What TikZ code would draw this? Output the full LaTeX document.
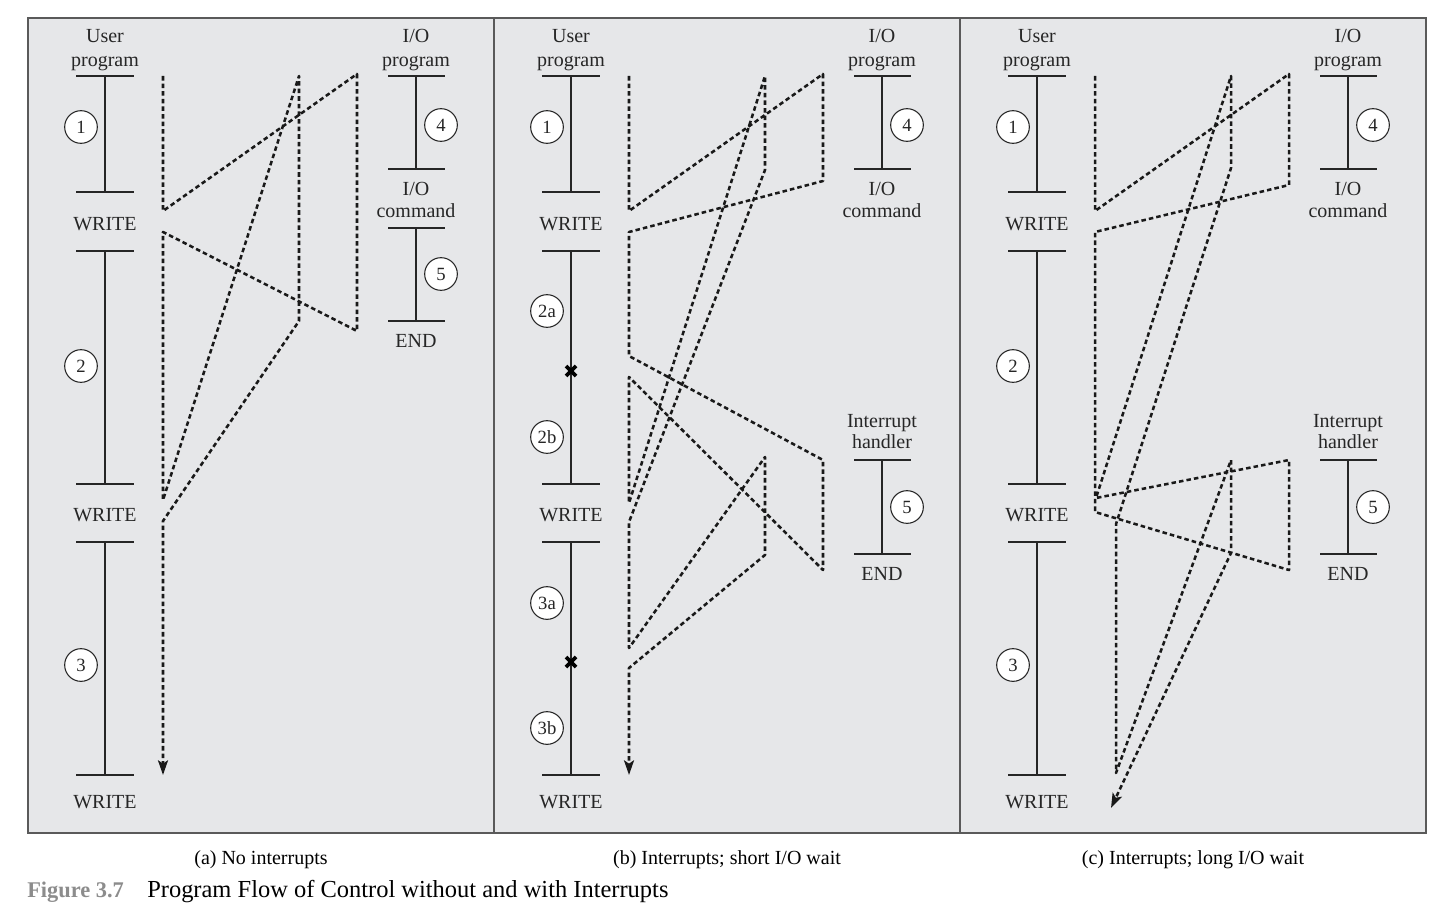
\documentclass[tikz,border=0pt]{standalone}
\usepackage{fontspec}
\setmainfont{Liberation Serif}
\usetikzlibrary{arrows.meta}
\definecolor{panelbg}{HTML}{E6E7E9}
\definecolor{framec}{HTML}{5A5A5A}
\definecolor{inkc}{HTML}{262626}
\definecolor{figgray}{HTML}{8C8C8C}
\tikzset{
  lbl/.style={inner sep=0pt, anchor=base, font=\fontsize{15}{18}\selectfont, text=inkc},
  numc/.style={circle, draw=inkc, fill=white, line width=0.8pt, minimum size=24.5pt, inner sep=0pt, font=\fontsize{14}{16}\selectfont, text=inkc},
  tickline/.style={draw=inkc, line width=1pt},
  progline/.style={draw=inkc, line width=0.9pt},
  flow/.style={draw=black!90, line width=1.9pt, dash pattern=on 3.4pt off 2.3pt, line join=round},
  flowarrow/.style={flow, -{Stealth[length=11pt,width=7.5pt,inset=2.5pt]}},
  xmark/.style={draw=black, line width=2.8pt},
  captext/.style={inner sep=0pt, anchor=base, font=\fontsize{15}{18}\selectfont},
}
\newcommand\mypanelbase{%
  \node[lbl] (up1) at (105,43) {User};
  \node[lbl] (up2) at (105,66) {program};
  \node[lbl] (io1) at (416,43) {I/O};
  \node[lbl] (io2) at (416,66) {program};
  \node[lbl] (ioc1) at (416,195) {I/O};
  \node[lbl] (ioc2) at (416,217) {command};
  \node[lbl] (w1) at (105,230) {WRITE};
  \node[lbl] (w2) at (105,521) {WRITE};
  \node[lbl] (w3) at (105,808) {WRITE};
  \foreach \n/\y in {u0/76,u1/192,u2/251,u3/484,u4/542,u5/775}{
    \coordinate (\n) at (105,\y);
    \draw[tickline] (76,\y) -- (134,\y);
  }
  \draw[progline] (u0) -- (u1) (u2) -- (u3) (u4) -- (u5);
  \coordinate (i0) at (416,76);
  \coordinate (i1) at (416,169);
  \draw[tickline] (388,76) -- (445,76) (388,169) -- (445,169);
  \draw[progline] (i0) -- (i1);
  \node[numc] (c4) at (441,125) {4};
  \node[numc] (c1) at (81,127) {1};
}
\newcommand\myhandler{%
  \node[lbl] (ih1) at (416,427) {Interrupt};
  \node[lbl] (ih2) at (416,448) {handler};
  \coordinate (h0) at (416,460); \coordinate (h1) at (416,554);
  \draw[tickline] (388,460) -- (445,460) (388,554) -- (445,554);
  \draw[progline] (h0) -- (h1);
  \node[numc] (c5) at (441,507) {5};
  \node[lbl] (end) at (416,580) {END};
}
\begin{document}
\begin{tikzpicture}[x=0.75pt,y=-0.75pt]
\useasboundingbox (0,0) rectangle (1448,906);
\fill[panelbg] (28,18) rectangle (1426,833);
\coordinate (d1t) at (494,18); \coordinate (d1b) at (494,833);
\coordinate (d2t) at (960,18); \coordinate (d2b) at (960,833);
\draw[framec, line width=1.1pt] (28,18) rectangle (1426,833);
\draw[framec, line width=1.1pt] (d1t) -- (d1b) (d2t) -- (d2b);

% ---------- (a) ----------
\begin{scope}[name prefix=a-]
  \mypanelbase
  \draw[tickline] (388,228) -- (445,228) (388,321) -- (445,321);
  \coordinate (h0) at (416,228); \coordinate (h1) at (416,321);
  \draw[progline] (h0) -- (h1);
  \node[numc] (c5) at (441,274) {5};
  \node[lbl] (end) at (416,347) {END};
  \node[numc] (c2) at (81,366) {2};
  \node[numc] (c3) at (81,665) {3};
  \draw[flowarrow] (163,76) -- (163,211) -- (357,74) -- (357,331) -- (163,232)
     -- (163,500) -- (299,76) -- (299,321) -- (163,521) -- (163,775);
\end{scope}

% ---------- (b) ----------
\begin{scope}[xshift=349.5pt, name prefix=b-]
  \mypanelbase
  \myhandler
  \node[numc] (c2a) at (81,311) {2a};
  \node[numc] (c2b) at (81,437) {2b};
  \node[numc] (c3a) at (81,603) {3a};
  \node[numc] (c3b) at (81,728) {3b};
  \draw[xmark] (100,366) -- (110,376) (100,376) -- (110,366);
  \draw[xmark] (100,657) -- (110,667) (100,667) -- (110,657);
  \draw[flowarrow] (163,76) -- (163,211) -- (357,74) -- (357,181) -- (163,232)
     -- (163,356) -- (357,460) -- (357,570) -- (163,377) -- (163,503)
     -- (299,76) -- (299,170) -- (163,522) -- (163,648) -- (299,457)
     -- (299,555) -- (163,668) -- (163,775);
\end{scope}

% ---------- (c) ----------
\begin{scope}[xshift=699pt, name prefix=c-]
  \mypanelbase
  \myhandler
  \node[numc] (c2) at (81,366) {2};
  \node[numc] (c3) at (81,665) {3};
  \draw[flowarrow] (163,76) -- (163,211) -- (357,74) -- (357,185) -- (163,232)
     -- (163,512) -- (357,570) -- (357,460) -- (164,498) -- (299,76)
     -- (299,168) -- (184,524) -- (184,773) -- (299,460) -- (299,553)
     -- (179,808);
\end{scope}

% ---------- captions ----------
\node[captext] (capa) at (261,864) {(a) No interrupts};
\node[captext] (capb) at (727,864) {(b) Interrupts; short I/O wait};
\node[captext] (capc) at (1193,864) {(c) Interrupts; long I/O wait};
\node[captext, anchor=base west, font=\bfseries\fontsize{16.8}{20}\selectfont, text=figgray] (fig) at (27,897) {Figure 3.7};
\node[captext, anchor=base west, font=\fontsize{18.35}{20}\selectfont] (title) at (147,897) {Program Flow of Control without and with Interrupts};
\end{tikzpicture}
\end{document}
